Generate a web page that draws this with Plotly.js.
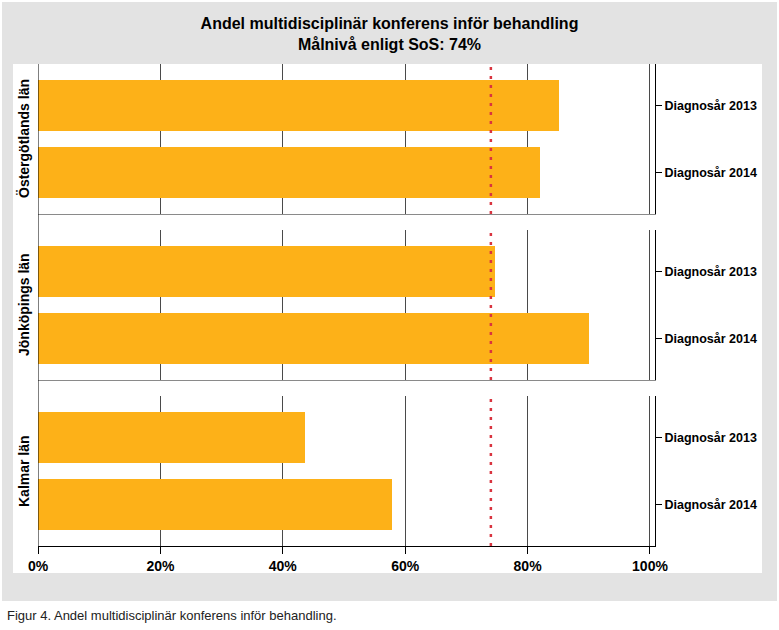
<!DOCTYPE html>
<html>
<head>
<meta charset="utf-8">
<script src="https://cdn.plot.ly/plotly-3.0.1.min.js"></script>
<style>
  html, body { margin: 0; padding: 0; background: #ffffff; }
  #chart { width: 779px; height: 630px; }
</style>
</head>
<body>
<div id="chart"></div>
<script>
// ---- Data ----
const regions = ['Östergötlands län', 'Jönköpings län', 'Kalmar län'];
const years = ['Diagnosår 2013', 'Diagnosår 2014'];
const values2013 = [85.2, 74.6, 43.7];
const values2014 = [82.0, 90.0, 57.8];
const targetLevel = 74;
const xTickVals = [0, 20, 40, 60, 80, 100];
const xTickText = ['0%', '20%', '40%', '60%', '80%', '100%'];
const titleLines = ['Andel multidisciplinär konferens inför behandling', 'Målnivå enligt SoS: 74%'];
const captionText = 'Figur 4. Andel multidisciplinär konferens inför behandling.';

// ---- Layout helpers (pixel -> paper) ----
const W = 779, H = 630;
const px = v => v / W;
const py = v => 1 - v / H;

const FONT = 'Liberation Sans, Arial, sans-serif';
const barColor = '#FDB118';
const targetColor = '#D9343F';

// panel vertical extents in pixels [top, bottom]
const panels = [[64, 214], [230, 380], [396, 546]];
const xDomain = [px(38), px(655)];
const xRange = [0, 100.82];

const traces = [];
const layout = {
  width: W, height: H,
  margin: {l: 0, r: 0, t: 0, b: 0},
  paper_bgcolor: '#ffffff',
  plot_bgcolor: 'rgba(0,0,0,0)',
  showlegend: false,
  hovermode: false,
  bargap: 0,
  title: {
    text: titleLines.join('<br>'),
    font: {family: FONT, size: 16, color: '#000000', weight: 'bold'},
    x: 0.5, xanchor: 'center', xref: 'paper',
    y: py(29), yanchor: 'middle', yref: 'paper'
  },
  shapes: [
    {type: 'rect', xref: 'paper', yref: 'paper', x0: px(2), x1: px(777), y0: py(601), y1: py(2),
     fillcolor: '#E3E3E3', line: {width: 0}, layer: 'below'},
    {type: 'rect', xref: 'paper', yref: 'paper', x0: px(13), x1: px(762), y0: py(573), y1: py(64),
     fillcolor: '#FFFFFF', line: {width: 0}, layer: 'below'}
  ],
  annotations: []
};

regions.forEach((region, i) => {
  const n = i + 1;
  const xa = n === 1 ? 'x' : 'x' + n;
  const ya = n === 1 ? 'y' : 'y' + n;
  const xKey = n === 1 ? 'xaxis' : 'xaxis' + n;
  const yKey = n === 1 ? 'yaxis' : 'yaxis' + n;
  const isLast = n === regions.length;

  traces.push({
    type: 'bar', orientation: 'h',
    x: [values2013[i], values2014[i]],
    y: years,
    width: 0.75,
    marker: {color: barColor, line: {width: 0}},
    xaxis: xa, yaxis: ya,
    hoverinfo: 'skip'
  });

  layout[xKey] = {
    domain: xDomain,
    range: xRange,
    anchor: ya,
    fixedrange: true,
    showgrid: true, gridcolor: '#4A4A4A', gridwidth: 1,
    zeroline: false,
    showline: true,
    linecolor: isLast ? '#000000' : '#8A8A8A', linewidth: 1,
    tickmode: 'array', tickvals: xTickVals, ticktext: xTickText,
    ticks: isLast ? 'outside' : '', ticklen: 7, tickcolor: '#000000', tickwidth: 1,
    showticklabels: isLast,
    tickfont: {family: FONT, size: 14, color: '#000000', weight: 'bold'}
  };
  if (!isLast) layout[xKey].matches = 'x3';

  layout[yKey] = {
    domain: [py(panels[i][1]), py(panels[i][0])],
    anchor: xa,
    type: 'category',
    categoryorder: 'array', categoryarray: years,
    range: [1.62, -0.62],
    side: 'right',
    fixedrange: true,
    showgrid: false, zeroline: false,
    showline: true, linecolor: '#000000', linewidth: 1,
    ticks: 'outside', ticklen: 6, tickcolor: '#000000', tickwidth: 1,
    tickfont: {family: FONT, size: 12.5, color: '#000000', weight: 'bold'}
  };

  // target level line (per panel)
  layout.shapes.push({
    type: 'line', xref: xa, yref: ya + ' domain',
    x0: targetLevel, x1: targetLevel, y0: 0, y1: 1,
    line: {color: targetColor, width: 2.5, dash: '3px,6px'}
  });

  // panel label
  layout.annotations.push({
    text: region, textangle: -90,
    xref: 'paper', yref: ya + ' domain',
    x: px(24), y: 0.5, xanchor: 'center', yanchor: 'middle',
    showarrow: false,
    font: {family: FONT, size: 14, color: '#000000', weight: 'bold'}
  });
});

// continuous left axis line across all panels
layout.shapes.push({
  type: 'line', xref: 'x3', yref: 'paper',
  x0: 0, x1: 0, y0: py(546), y1: py(64),
  line: {color: '#000000', width: 1}
});

// figure caption
layout.annotations.push({
  text: captionText,
  xref: 'paper', yref: 'paper',
  x: px(5), y: py(615), xanchor: 'left', yanchor: 'middle',
  showarrow: false,
  font: {family: FONT, size: 13, color: '#222222'}
});

Plotly.newPlot('chart', traces, layout, {displayModeBar: false, staticPlot: true});
</script>
</body>
</html>
